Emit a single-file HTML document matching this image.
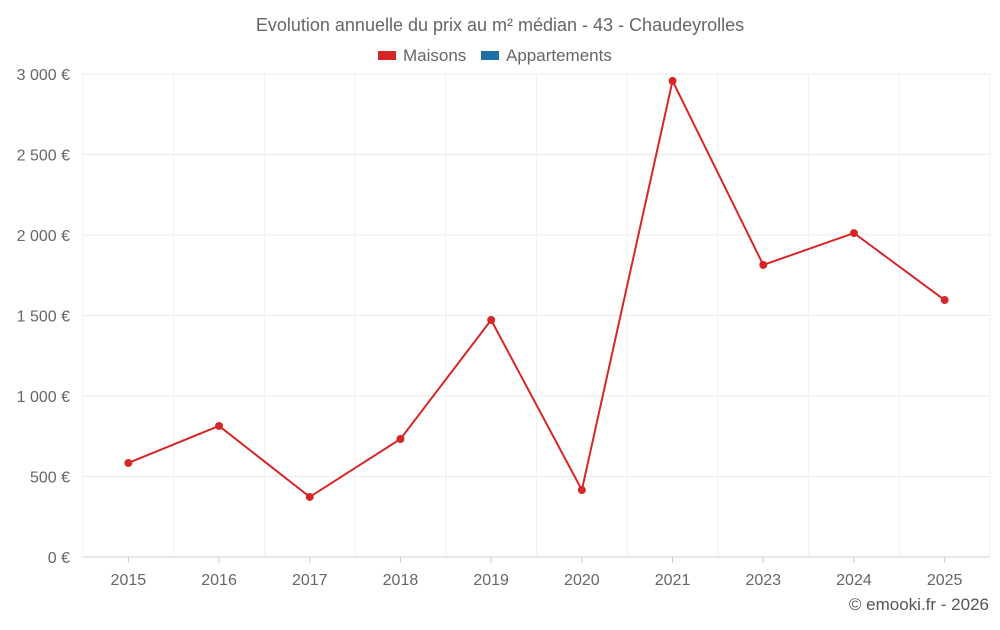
<!DOCTYPE html>
<html><head><meta charset="utf-8"><style>
body{margin:0;background:#fff;font-family:"Liberation Sans",sans-serif;}
</style></head><body>
<svg id="chart" width="1000" height="625" xmlns="http://www.w3.org/2000/svg">
<text x="500" y="31" text-anchor="middle" font-size="18" fill="#666">Evolution annuelle du prix au m² médian - 43 - Chaudeyrolles</text>
<g>
<g><rect x="378" y="51" width="18" height="9" fill="#d62728"/><text x="403" y="61" font-size="17" fill="#666">Maisons</text></g>
<g><rect x="481" y="51" width="18" height="9" fill="#1f6fa8"/><text x="506" y="61" font-size="17" fill="#666">Appartements</text></g>
</g>
<g id="grid"></g><g id="axes"></g><g id="series"></g>
<text x="989" y="610" text-anchor="end" font-size="17" fill="#555">© emooki.fr - 2026</text>
</svg>
<script>
const categories=["2015","2016","2017","2018","2019","2020","2021","2023","2024","2025"];
const maisons=[584,814,373,733,1472,416,2957,1814,2012,1596];
const yTicks=[0,500,1000,1500,2000,2500,3000];
const yTickLabels=["0 €","500 €","1 000 €","1 500 €","2 000 €","2 500 €","3 000 €"];
const NS="http://www.w3.org/2000/svg";
const L=83,R=990,T=74,B=557,yMax=3000;
const band=(R-L)/categories.length;
const x=i=>L+band*(i+0.5);
const y=v=>B-(v/yMax)*(B-T);
function mk(tag,attrs,parent){const e=document.createElementNS(NS,tag);for(const k in attrs)e.setAttribute(k,attrs[k]);parent.appendChild(e);return e;}
const grid=document.getElementById('grid'),axes=document.getElementById('axes'),series=document.getElementById('series');
yTicks.forEach((t,i)=>{
 const l=mk('line',{x1:L,x2:R,y1:y(t),y2:y(t),stroke:i==0?'#ccc':'#ebebeb'},grid);
 
 
 const tx=mk('text',{x:70,y:y(t)+6,'text-anchor':'end','font-size':16,fill:'#666'},axes);
 tx.textContent=yTickLabels[i];
 
 
});
for(let i=0;i<=categories.length;i++){
 const gx=L+band*i;
 const l=mk('line',{x1:gx,x2:gx,y1:T,y2:B,stroke:'#f0f0f0'},grid);
 
 
}
categories.forEach((c,i)=>{
 const tk=mk('line',{x1:x(i),x2:x(i),y1:B,y2:B+6,stroke:'#ccc'},axes);
 
 
 const tx=mk('text',{x:x(i),y:585,'text-anchor':'middle','font-size':16,fill:'#666'},axes);
 tx.textContent=c;
 
 
});
const pl=mk('polyline',{points:maisons.map((v,i)=>x(i)+','+y(v)).join(' '),fill:'none',stroke:'#d62728','stroke-width':2},series);


maisons.forEach((v,i)=>{
 const c=mk('circle',{cx:x(i),cy:y(v),r:4,fill:'#d62728'},series);
 
 
});
</script>
</body></html>
